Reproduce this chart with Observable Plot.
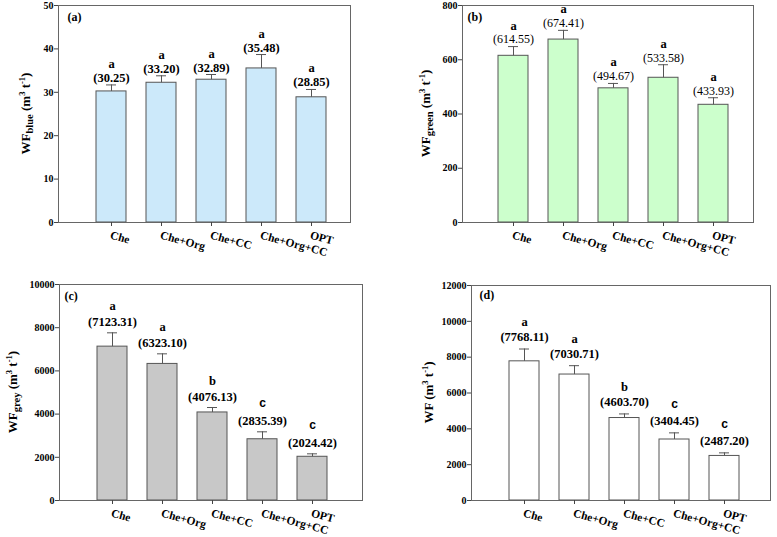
<!DOCTYPE html>
<html><head><meta charset="utf-8">
<script src="https://cdn.jsdelivr.net/npm/d3@7"></script>
<script src="https://cdn.jsdelivr.net/npm/@observablehq/plot@0.6"></script>
<style>
body{margin:0;background:#fff;}
#wrap{position:relative;width:777px;height:537px;overflow:hidden;background:#fff;}
.panel{position:absolute;}
</style></head><body><div id="wrap"></div>
<script>
const treatments = ["Che", "Che+Org", "Che+CC", "Che+Org+CC", "OPT"];

const blueMean = [30.2, 32.2, 32.9, 35.5, 28.85];
const blueSE = [1.5, 1.6, 1.2, 3.2, 1.8];
const blueLabels = ["(30.25)", "(33.20)", "(32.89)", "(35.48)", "(28.85)"];
const blueLetters = ["a", "a", "a", "a", "a"];
const blueTicks = [0, 10, 20, 30, 40, 50];

const greenMean = [614.55, 674.41, 494.67, 533.58, 433.93];
const greenSE = [34, 34, 18, 48, 26];
const greenLabels = ["(614.55)", "(674.41)", "(494.67)", "(533.58)", "(433.93)"];
const greenLetters = ["a", "a", "a", "a", "a"];
const greenTicks = [0, 200, 400, 600, 800];

const greyMean = [7123.31, 6323.10, 4076.13, 2835.39, 2024.42];
const greySE = [640, 467, 229, 344, 136];
const greyLabels = ["(7123.31)", "(6323.10)", "(4076.13)", "(2835.39)", "(2024.42)"];
const greyLetters = ["a", "a", "b", "c", "c"];
const greyTicks = [0, 2000, 4000, 6000, 8000, 10000];

const totalMean = [7768.11, 7030.71, 4603.70, 3404.45, 2487.20];
const totalSE = [687, 494, 228, 370, 171];
const totalLabels = ["(7768.11)", "(7030.71)", "(4603.70)", "(3404.45)", "(2487.20)"];
const totalLetters = ["a", "a", "b", "c", "c"];
const totalTicks = [0, 2000, 4000, 6000, 8000, 10000, 12000];

const SERIF = "'Liberation Serif', 'Times New Roman', serif";
const SANS = "'Liberation Sans', Arial, sans-serif";

function panel(cfg) {
  const data = treatments.map((t, i) => ({
    t, m: cfg.mean[i], top: cfg.mean[i] + cfg.se[i], label: cfg.labels[i], letter: cfg.letters[i]
  }));
  const [mt, mr, mb, ml] = cfg.margins;
  const svg = Plot.plot({
    width: cfg.width, height: cfg.height,
    marginTop: mt, marginRight: mr, marginBottom: mb, marginLeft: ml,
    style: {fontFamily: SERIF, background: "transparent", overflow: "visible", color: "#000"},
    x: {type: "band", domain: treatments, range: cfg.xRange, paddingInner: 0.4, paddingOuter: 0.2},
    y: {domain: [cfg.ticks[0], cfg.ticks[cfg.ticks.length - 1]]},
    marks: [
      Plot.barY(data, {x: "t", y: "m", fill: cfg.fill, stroke: "#555", strokeWidth: 1}),
      Plot.ruleX(data, {x: "t", y1: "m", y2: "top", stroke: "#555", strokeWidth: 1}),
      Plot.tickY(data, {x: "t", y: "top", stroke: "#555", strokeWidth: 1, insetLeft: 10, insetRight: 10}),
      Plot.frame({stroke: "#666", strokeWidth: 1}),
      Plot.axisY({ticks: cfg.ticks, tickSize: 4, tickPadding: 1, fontSize: 10, fontWeight: "bold",
        label: null, tickFormat: d3.format("d"), stroke: "#444"}),
      Plot.axisX({tickSize: 4, tickPadding: 4, tickRotate: 15, textAnchor: "start", lineAnchor: "top",
        fontSize: 11.5, fontWeight: "bold", label: null, stroke: "#444"}),
      Plot.text(data, {x: "t", y: "top", text: "label", dy: -cfg.valOff, fontSize: cfg.valueSize,
        fontWeight: cfg.valueWeight, fill: "#000"}),
      Plot.text(data.filter(d => d.letter !== "c"), {x: "t", y: "top", text: "letter",
        dy: -(cfg.valOff + cfg.letOff), fontSize: 12.5, fontWeight: "bold", fill: "#000"}),
      Plot.text(data.filter(d => d.letter === "c"), {x: "t", y: "top", text: "letter",
        dy: -(cfg.valOff + cfg.letOff + 2), fontSize: 12, fontWeight: "bold", fontFamily: SANS, fill: "#000"}),
      Plot.text([cfg.tag], {frameAnchor: "top-left", textAnchor: "start", lineAnchor: "top",
        dx: cfg.tagOff[0], dy: cfg.tagOff[1], fontSize: 12, fontWeight: "bold", fill: "#000"})
    ]
  });
  const cy = (mt + cfg.height - mb) / 2;
  const t = d3.select(svg).append("text")
    .attr("transform", `translate(${cfg.titleX},${cy}) rotate(-90)`)
    .attr("text-anchor", "middle").attr("dy", "0.35em")
    .attr("font-family", SERIF).attr("font-weight", "bold").attr("font-size", 13).attr("fill", "#000");
  let shift = 0;
  cfg.title.forEach(([s, kind]) => {
    const ts = t.append("tspan").text(s);
    let target = kind === "sub" ? 3.5 : kind === "sup" ? -5 : 0;
    if (target !== shift) ts.attr("dy", target - shift);
    shift = target;
    if (kind === "sub") ts.attr("font-size", 10.5);
    if (kind === "sup") ts.attr("font-size", 8.5);
  });
  const div = document.createElement("div");
  div.className = "panel";
  div.style.left = cfg.left + "px";
  div.style.top = cfg.top + "px";
  div.appendChild(svg);
  document.getElementById("wrap").appendChild(div);
}

const unit = [[" (m", ""], ["3", "sup"], [" t", ""], ["-1", "sup"], [")", ""]];

panel({left: 0, top: 0, width: 390, height: 260, margins: [5, 40, 38, 58], xRange: [86, 336],
  mean: blueMean, se: blueSE, labels: blueLabels, letters: blueLetters, ticks: blueTicks,
  fill: "#cce9fa", tag: "(a)", tagOff: [9, 7], valueWeight: "bold", valueSize: 12.5, valOff: 7, letOff: 14,
  titleX: 25, title: [["WF", ""], ["blue", "sub"], ...unit]});

panel({left: 390, top: 0, width: 387, height: 260, margins: [5, 24, 38, 72], xRange: [97.5, 347.5],
  mean: greenMean, se: greenSE, labels: greenLabels, letters: greenLetters, ticks: greenTicks,
  fill: "#ccffcc", tag: "(b)", tagOff: [5, 7], valueWeight: "normal", valueSize: 12, valOff: 7, letOff: 14,
  titleX: 35, title: [["WF", ""], ["green", "sub"], ...unit]});

panel({left: 0, top: 260, width: 390, height: 277, margins: [24, 28, 37, 59], xRange: [86.7, 337.7],
  mean: greyMean, se: greySE, labels: greyLabels, letters: greyLetters, ticks: greyTicks,
  fill: "#c8c8c8", tag: "(c)", tagOff: [5, 7], valueWeight: "bold", valueSize: 12.5, valOff: 11, letOff: 16,
  titleX: 12, title: [["WF", ""], ["grey", "sub"], ...unit]});

panel({left: 390, top: 260, width: 387, height: 277, margins: [25, 7, 37, 81], xRange: [108.3, 359.3],
  mean: totalMean, se: totalSE, labels: totalLabels, letters: totalLetters, ticks: totalTicks,
  fill: "#ffffff", tag: "(d)", tagOff: [8, 5], valueWeight: "bold", valueSize: 12.5, valOff: 12, letOff: 15,
  titleX: 38, title: [["WF", ""], ...unit]});
</script>
</body></html>
